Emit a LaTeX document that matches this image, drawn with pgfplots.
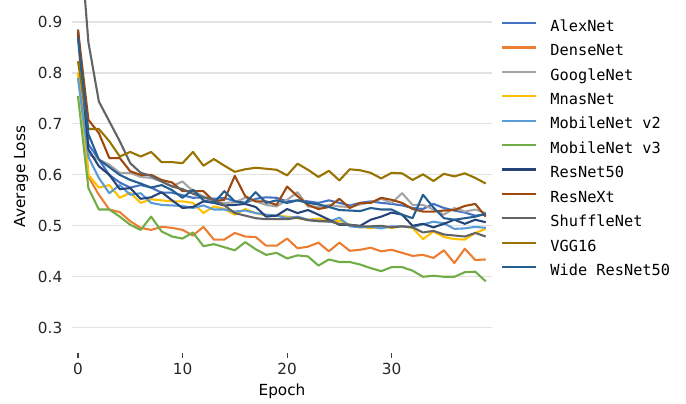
\documentclass[border=0pt]{standalone}
\usepackage{fontspec}
\setmainfont{DejaVu Sans}
\newfontfamily\monofont{DejaVu Sans Mono}
\usepackage{pgfplots}
\pgfplotsset{compat=1.18}
\definecolor{cAlex}{HTML}{4472C4}
\definecolor{cDense}{HTML}{ED7D31}
\definecolor{cGoogle}{HTML}{A5A5A5}
\definecolor{cMnas}{HTML}{FFC000}
\definecolor{cMobTwo}{HTML}{5B9BD5}
\definecolor{cMobThree}{HTML}{70AD47}
\definecolor{cResFifty}{HTML}{264478}
\definecolor{cResNeXt}{HTML}{9E480E}
\definecolor{cShuffle}{HTML}{636363}
\definecolor{cVGG}{HTML}{997300}
\definecolor{cWide}{HTML}{255E91}
\definecolor{gridc}{RGB}{226,226,226}
\begin{document}
\begin{tikzpicture}
\path[use as bounding box] (0,0) rectangle (493.92pt,290.16pt);
\begin{axis}[
  at={(51.84pt,36pt)}, anchor=south west,
  width=302.4pt, height=254.16pt, scale only axis,
  xmin=-0.57, xmax=39.6, ymin=0.2504, ymax=0.9432,
  axis x line*=bottom, axis y line*=left,
  axis line style={draw=none},
  xtick={0,10,20,30}, ytick={0.3,0.4,0.5,0.6,0.7,0.8,0.9},
  yticklabel style={/pgf/number format/fixed,/pgf/number format/precision=1},
  /pgf/number format/assume math mode=true,
  tick label style={font=\fontsize{11}{13}\selectfont, text=black!85},
  label style={font=\fontsize{11}{13}\selectfont},
  xlabel={Epoch}, ylabel={Average Loss},
  tick align=outside, major tick length=3.5pt,
  xtick style={draw=black!75, line width=0.8pt},
  ytick style={draw=none},
  ymajorgrids, grid style={gridc, line width=0.8pt},
  every axis plot/.append style={line width=1.5pt, mark=none, line join=round},
  legend style={at={(1,1)}, anchor=north west, xshift=6.5pt, yshift=-14.4pt,
    draw=none, fill=none, inner sep=0pt, row sep=7.07pt,
    font=\monofont\fontsize{11}{13}\selectfont,
    nodes={inner sep=0pt, text height=8pt, text depth=2.5pt},
    /tikz/every odd column/.append style={column sep=9.4pt}},
  legend cell align=left,
  legend image code/.code={\path[draw=none,fill=none] (0pt,0pt) rectangle (24.5pt,0.1pt); \draw[#1] (0pt,3.2pt) -- (24.5pt,3.2pt);},
]
\addplot[cAlex] table[x index=0,y index=1] {
0 0.885
1 0.66
2 0.63
3 0.60
4 0.585
5 0.575
6 0.58
7 0.575
8 0.565
9 0.565
10 0.56
11 0.555
12 0.556
13 0.553
14 0.555
15 0.548
16 0.545
17 0.553
18 0.556
19 0.555
20 0.548
21 0.55
22 0.548
23 0.545
24 0.55
25 0.545
26 0.54
27 0.545
28 0.548
29 0.545
30 0.543
31 0.54
32 0.535
33 0.533
34 0.543
35 0.535
36 0.53
37 0.526
38 0.52
39 0.522
};
\addlegendentry{AlexNet}
\addplot[cDense] table[x index=0,y index=1] {
0 0.875
1 0.596
2 0.561
3 0.532
4 0.527
5 0.509
6 0.496
7 0.492
8 0.498
9 0.496
10 0.492
11 0.481
12 0.498
13 0.473
14 0.473
15 0.486
16 0.479
17 0.478
18 0.461
19 0.461
20 0.475
21 0.456
22 0.459
23 0.467
24 0.45
25 0.467
26 0.451
27 0.453
28 0.457
29 0.45
30 0.453
31 0.447
32 0.441
33 0.443
34 0.437
35 0.452
36 0.427
37 0.455
38 0.433
39 0.434
};
\addlegendentry{DenseNet}
\addplot[cGoogle] table[x index=0,y index=1] {
0 0.80
1 0.64
2 0.63
3 0.62
4 0.604
5 0.604
6 0.596
7 0.594
8 0.587
9 0.578
10 0.587
11 0.568
12 0.558
13 0.545
14 0.545
15 0.546
16 0.555
17 0.548
18 0.541
19 0.538
20 0.551
21 0.566
22 0.538
23 0.537
24 0.541
25 0.538
26 0.537
27 0.542
28 0.546
29 0.553
30 0.545
31 0.564
32 0.541
33 0.541
34 0.532
35 0.522
36 0.535
37 0.528
38 0.532
39 0.525
};
\addlegendentry{GoogleNet}
\addplot[cMnas] table[x index=0,y index=1] {
0 0.80
1 0.60
2 0.575
3 0.58
4 0.555
5 0.565
6 0.545
7 0.552
8 0.55
9 0.548
10 0.548
11 0.545
12 0.525
13 0.538
14 0.533
15 0.522
16 0.533
17 0.525
18 0.52
19 0.52
20 0.518
21 0.515
22 0.512
23 0.514
24 0.51
25 0.51
26 0.502
27 0.499
28 0.495
29 0.499
30 0.496
31 0.499
32 0.496
33 0.474
34 0.489
35 0.478
36 0.474
37 0.473
38 0.486
39 0.494
};
\addlegendentry{MnasNet}
\addplot[cMobTwo] table[x index=0,y index=1] {
0 0.79
1 0.635
2 0.594
3 0.564
4 0.58
5 0.561
6 0.564
7 0.545
8 0.541
9 0.54
10 0.539
11 0.535
12 0.54
13 0.532
14 0.532
15 0.528
16 0.53
17 0.525
18 0.522
19 0.52
20 0.515
21 0.518
22 0.512
23 0.51
24 0.508
25 0.516
26 0.499
27 0.497
28 0.498
29 0.495
30 0.499
31 0.499
32 0.497
33 0.503
34 0.508
35 0.505
36 0.494
37 0.495
38 0.498
39 0.496
};
\addlegendentry{MobileNet v2}
\addplot[cMobThree] table[x index=0,y index=1] {
0 0.755
1 0.574
2 0.532
3 0.532
4 0.518
5 0.502
6 0.492
7 0.518
8 0.489
9 0.479
10 0.475
11 0.487
12 0.46
13 0.464
14 0.458
15 0.452
16 0.468
17 0.454
18 0.443
19 0.447
20 0.436
21 0.442
22 0.44
23 0.422
24 0.434
25 0.429
26 0.429
27 0.424
28 0.417
29 0.411
30 0.419
31 0.419
32 0.412
33 0.40
34 0.402
35 0.40
36 0.40
37 0.409
38 0.41
39 0.391
};
\addlegendentry{MobileNet v3}
\addplot[cResFifty] table[x index=0,y index=1] {
0 0.88
1 0.65
2 0.617
3 0.60
4 0.572
5 0.574
6 0.553
7 0.556
8 0.566
9 0.55
10 0.535
11 0.537
12 0.548
13 0.545
14 0.54
15 0.541
16 0.543
17 0.537
18 0.518
19 0.52
20 0.533
21 0.525
22 0.531
23 0.522
24 0.512
25 0.502
26 0.502
27 0.50
28 0.512
29 0.518
30 0.526
31 0.522
32 0.50
33 0.504
34 0.497
35 0.504
36 0.512
37 0.504
38 0.512
39 0.507
};
\addlegendentry{ResNet50}
\addplot[cResNeXt] table[x index=0,y index=1] {
0 0.885
1 0.708
2 0.682
3 0.633
4 0.633
5 0.607
6 0.60
7 0.60
8 0.59
9 0.585
10 0.568
11 0.568
12 0.568
13 0.548
14 0.551
15 0.598
16 0.558
17 0.548
18 0.548
19 0.541
20 0.577
21 0.558
22 0.541
23 0.533
24 0.537
25 0.553
26 0.535
27 0.545
28 0.545
29 0.555
30 0.551
31 0.545
32 0.533
33 0.528
34 0.528
35 0.53
36 0.531
37 0.539
38 0.543
39 0.518
};
\addlegendentry{ResNeXt}
\addplot[cShuffle] table[x index=0,y index=1] {
0 1.12
1 0.86
2 0.744
3 0.705
4 0.666
5 0.623
6 0.604
7 0.598
8 0.587
9 0.577
10 0.572
11 0.563
12 0.556
13 0.551
14 0.54
15 0.525
16 0.52
17 0.515
18 0.513
19 0.513
20 0.513
21 0.516
22 0.511
23 0.509
24 0.509
25 0.504
26 0.502
27 0.499
28 0.499
29 0.50
30 0.497
31 0.499
32 0.497
33 0.487
34 0.49
35 0.483
36 0.481
37 0.479
38 0.486
39 0.479
};
\addlegendentry{ShuffleNet}
\addplot[cVGG] table[x index=0,y index=1] {
0 0.823
1 0.69
2 0.69
3 0.666
4 0.636
5 0.645
6 0.636
7 0.645
8 0.625
9 0.625
10 0.623
11 0.645
12 0.618
13 0.631
14 0.618
15 0.606
16 0.611
17 0.614
18 0.612
19 0.61
20 0.599
21 0.622
22 0.61
23 0.596
24 0.608
25 0.589
26 0.611
27 0.609
28 0.604
29 0.593
30 0.604
31 0.603
32 0.59
33 0.601
34 0.588
35 0.602
36 0.597
37 0.603
38 0.594
39 0.583
};
\addlegendentry{VGG16}
\addplot[cWide] table[x index=0,y index=1] {
0 0.87
1 0.68
2 0.63
3 0.615
4 0.60
5 0.59
6 0.583
7 0.575
8 0.58
9 0.57
10 0.555
11 0.571
12 0.55
13 0.545
14 0.568
15 0.548
16 0.545
17 0.566
18 0.545
19 0.55
20 0.545
21 0.55
22 0.545
23 0.542
24 0.537
25 0.531
26 0.53
27 0.529
28 0.535
29 0.532
30 0.532
31 0.522
32 0.515
33 0.561
34 0.536
35 0.515
36 0.512
37 0.515
38 0.518
39 0.524
};
\addlegendentry{Wide ResNet50}
\end{axis}
\end{tikzpicture}
\end{document}
